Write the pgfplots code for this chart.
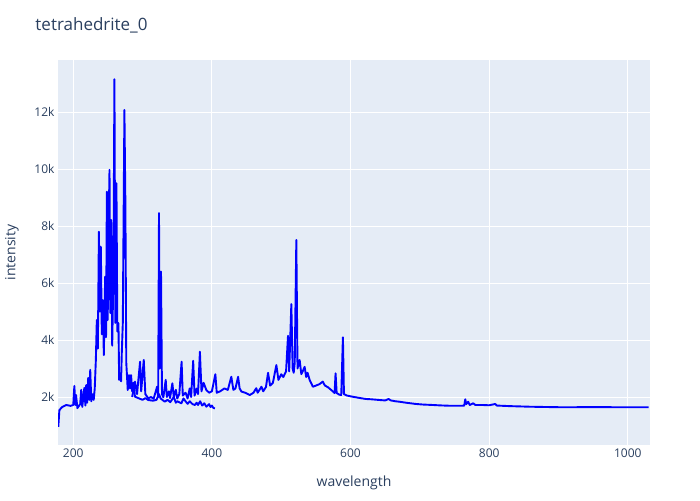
\documentclass[border=0pt]{standalone}
\usepackage{fontspec}
\setmainfont{Open Sans}
\usepackage{pgfplots}
\pgfplotsset{compat=1.18}
\definecolor{bgc}{HTML}{E5ECF6}
\definecolor{txt}{HTML}{2A3F5F}
\definecolor{ln}{HTML}{0000FF}
\begin{document}
\begin{tikzpicture}
\begin{axis}[
 at={(58pt,55pt)}, anchor=south west,
 scale only axis, width=592pt, height=385pt,
 xmin=178, xmax=1032, ymin=316, ymax=13825,
 axis background/.style={fill=bgc},
 axis line style={draw=none},
 major tick length=0pt,
 scaled y ticks=false, scaled x ticks=false,
 xtick={200,400,...,1000},
 ytick={2000,4000,...,12000},
 yticklabels={2k,4k,6k,8k,10k,12k},
 grid=major, grid style={white, line width=1pt},
 tick label style={font=\fontsize{12}{14}\selectfont, text=txt},
 /pgf/number format/assume math mode=true,
 /pgf/number format/1000 sep={},
 xlabel={wavelength}, ylabel={intensity},
 label style={font=\fontsize{14}{16}\selectfont, text=txt},
 xlabel style={at={(axis description cs:0.5,-0.0987)}, anchor=center},
 ylabel style={at={(axis description cs:-0.0777,0.5)}, anchor=center},
 title={tetrahedrite\_0},
 title style={at={(axis description cs:-0.044,1.0753)}, anchor=west, font=\fontsize{17}{20}\selectfont, text=txt},
]
\addplot[ln, line width=1.9pt, line join=round] coordinates {
(178.4,950) (180,1540) (184,1650) (190,1720) (196,1690) (200,1720) (201.6,2390) (203,1720) (204,2070) (206,1610)
(210,1750) (211.5,2250) (213,1650) (216,2320) (217.5,1700) (218.7,2420) (220,1800) (221.6,2670) (223,1900) (224.5,2950)
(226,1850) (228,2100) (229.5,1900) (231,2300) (232.6,3300) (234,4700) (235.5,3700) (237,7800) (238.3,5000) (239.8,7270)
(241.2,4200) (242.7,5400) (244.1,3470) (246,6220) (247.3,4100) (248.5,9200) (249.7,4700) (250.8,7630) (252.3,9970) (253.4,4950)
(254.7,8210) (256.2,3800) (258,6460) (259.4,13150) (260.7,4600) (262.3,9500) (263.6,4300) (265.2,4590) (266.2,2600) (267.6,2800)
(269,2550) (270,3530) (271.5,4600) (273.8,12070) (275.2,8800) (276.5,3200) (278.6,2245) (280.5,2770) (282,2300) (283.4,2770)
(285,2200) (287,2500) (289,2010) (295,1950) (300,1900) (304,1960) (308,1895) (315,1870) (320,1900) (323.7,2100)
(326,1950) (332,1835) (336,1900) (340,1820) (345,2000) (348,1800) (350,1850) (356,1780) (359,1950) (362,1850)
(365,1760) (368,1850) (372,1750) (375.5,1720) (378,1800) (380,1720) (383,1850) (386,1700) (389,1780) (392,1660)
(396,1750) (398,1650) (400,1700) (402,1620) (404.3,1600)
};
\addplot[ln, line width=1.9pt, line join=round] coordinates {
(285,2000) (289,2540) (292,2100) (296.4,3240) (298,2200) (301.7,3300) (304,2100) (308.3,1950) (312,2000) (316,1940)
(320.9,2360) (322.5,2000) (323.7,8450) (324.6,3000) (326.6,6400) (328,2100) (330,1990) (333.4,2600) (335,2000) (338,2200)
(339.6,1965) (343,2480) (345,2000) (348,2250) (350,1950) (353,2100) (356.3,3240) (358,2050) (362,2150) (365,1950)
(368,2300) (370,2000) (373,3270) (375,2050) (378,2300) (380,2100) (382.7,3590) (385,2200) (388,2500) (392,2245)
(396,2150) (400,2200) (405,2800) (407,2150) (412,2200) (418,2300) (423,2250) (428,2710) (431,2250) (434,2300)
(437.8,2710) (440,2300) (442.7,2190) (448,2150) (454.7,2070) (460,2150) (464,2310) (466,2150) (471.5,2360) (474,2200)
(478,2350) (481,2850) (484,2400) (488,2500) (493,3120) (496,2600) (500,2800) (503,2700) (507,2900) (509.8,4150)
(511.5,2900) (514.6,5260) (516.5,3000) (518,2850) (519.5,3200) (521.8,7510) (523.5,3000) (526.6,3300) (529,2800) (531,2900)
(533.8,3060) (536,2700) (538,2850) (541,2600) (545.7,2360) (550,2400) (555,2450) (560,2540) (563,2400) (567,2350)
(572,2250) (577,2140) (578.4,2830) (580,2140) (584,2080) (586.6,2070) (589,4095) (590.5,2100) (595,2050) (603,2010)
(610,1980) (617,1950) (622.5,1930) (630,1920) (641.7,1895) (650,1880) (655,1930) (658,1880) (665,1850) (670.5,1835)
(680,1800) (694.5,1755) (705,1735) (718.5,1720) (730,1705) (741,1695) (761.6,1695) (764,1700) (765.5,1920) (767,1750)
(769.7,1835) (772,1720) (777,1780) (780,1720) (790,1720) (800,1710) (808.6,1755) (811,1700) (830,1680) (857.5,1660)
(880,1650) (905.4,1640) (950,1645) (1000,1640) (1030,1640)
};
\end{axis}
\pgfresetboundingbox
\path (0,0) rectangle (700pt,500pt);
\end{tikzpicture}
\end{document}
